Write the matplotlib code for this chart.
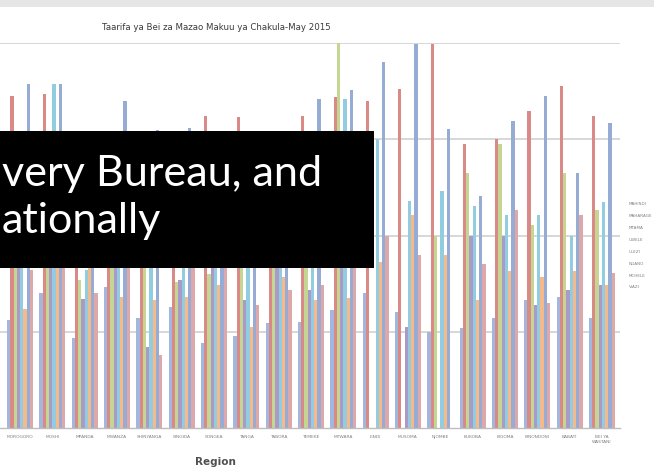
import matplotlib
matplotlib.use("Agg")
import matplotlib.pyplot as plt
import numpy as np
from matplotlib.patches import Rectangle

# Regional food crop prices, May 2015 (TSh per kg)
regions = ["MOROGORO", "MOSHI", "MPANDA", "MWANZA", "SHINYANGA", "SINGIDA",
           "SONGEA", "TANGA", "TABORA", "TEMEKE", "MTWARA", "LINDI", "MUSOMA",
           "NJOMBE", "BUKOBA", "KIGOMA", "KINONDONI", "BABATI", "BEI YA\nWASTANI"]

crops = ["MAHINDI", "MAHARAGE", "MTAMA", "UWELE", "ULEZI", "NGANO", "MCHELE", "VIAZI"]

mahindi = [560, 700, 470, 730, 570, 630, 443, 480, 547, 552, 615, 703, 604, 500, 520, 573, 667, 682, 573]
maharage = [1724, 1734, 1400, 1450, 1500, 1500, 1620, 1615, 1450, 1620, 1719, 1698, 1760, 1995, 1474, 1500, 1646, 1776, 1620]
mtama = [950, 1150, 770, 1100, 1200, 760, 800, 1000, 1100, 1000, 2000, 0, 0, 1000, 1323, 1474, 1057, 1323, 1135]
uwele = [1050, 1000, 670, 1200, 420, 770, 1100, 667, 900, 719, 1150, 0, 526, 0, 1000, 1000, 641, 719, 745]
ulezi = [1250, 1786, 820, 1300, 1100, 1250, 1300, 1200, 1250, 1300, 1708, 1500, 1177, 1229, 1151, 1109, 1109, 1000, 1172]
ngano = [620, 950, 900, 680, 667, 680, 745, 526, 786, 667, 677, 860, 1109, 900, 667, 813, 786, 813, 745]
mchele = [1786, 1786, 1500, 1698, 1550, 1560, 1500, 1450, 1500, 1708, 1755, 1901, 1995, 1552, 1203, 1594, 1724, 1323, 1583]
viazi = [820, 1000, 700, 1050, 380, 900, 950, 641, 719, 745, 900, 1000, 900, 0, 850, 1135, 651, 1109, 807]

series = [mahindi, maharage, mtama, uwele, ulezi, ngano, mchele, viazi]
colors = ["#a3b7de", "#d98a87", "#c4d691", "#a99ac7", "#92cce1",
          "#f6ba8a", "#97acd4", "#dca8aa"]

title = "Taarifa ya Bei za Mazao Makuu ya Chakula-May 2015"
caption_lines = ["very Bureau, and", "ationally"]

W, H = 654, 476
fig = plt.figure(figsize=(W / 100, H / 100), dpi=100)
fig.patch.set_facecolor("white")

def fx(px):
    return px / W

def fy(py):
    return 1 - py / H

# plot area: baseline at y=428 px, top gridline at y=43 px, right edge at x=620 px
ax = fig.add_axes([fx(0), fy(428), fx(620), (428 - 43) / H])
x = np.arange(len(regions))
n = len(series)
bw = 0.1005
for k, (vals, c, name) in enumerate(zip(series, colors, crops)):
    ax.bar(x + (k - (n - 1) / 2) * bw, vals, width=bw, color=c, label=name,
           linewidth=0, zorder=2)

ax.set_xlim(-0.619, 18.56)
ax.set_ylim(0, 2000)
ax.set_yticks([500, 1000, 1500, 2000])
ax.yaxis.grid(True, color="#d4d4d4", linewidth=1.3, zorder=0)
ax.set_axisbelow(True)
ax.tick_params(axis="y", left=False, labelleft=False)
ax.set_xticks(x)
ax.set_xticklabels(regions, fontsize=3.2, color="#808080",
                   family="Liberation Sans Narrow")
ax.tick_params(axis="x", length=0, pad=5)
for side in ["left", "right", "top"]:
    ax.spines[side].set_visible(False)
ax.spines["bottom"].set_color("#bdbdbd")
ax.spines["bottom"].set_linewidth(1.0)

leg = ax.legend(loc="upper left", bbox_to_anchor=(fx(627), fy(200)),
                bbox_transform=fig.transFigure, frameon=False,
                handlelength=0, handletextpad=0, borderpad=0,
                labelspacing=1.9, prop={"size": 3.0, "family": "Liberation Sans Narrow"})
for h in leg.legend_handles:
    h.set_visible(False)
for t in leg.get_texts():
    t.set_color("#808080")

fig.text(fx(216), fy(28), title, ha="center", va="center", fontsize=6.2,
         family="Liberation Sans Narrow", color="#3a3a3a")
fig.text(fx(215), fy(462), "Region", ha="center", va="center", fontsize=7.5,
         family="Liberation Sans Narrow", fontweight="bold", color="#505050")

# light strip along the top edge
fig.patches.append(Rectangle((0, fy(7)), 1, 7 / H, transform=fig.transFigure,
                             facecolor="#e6e6e6", edgecolor="none", zorder=5))

# black caption box with white text
fig.patches.append(Rectangle((0, fy(268)), fx(374), (268 - 131) / H,
                             transform=fig.transFigure, facecolor="black",
                             edgecolor="none", zorder=10))
t1 = fig.text(fx(2), fy(186), caption_lines[0], ha="left", va="baseline",
              color="white", family="Lato", fontsize=30, zorder=11)
t2 = fig.text(fx(2), fy(233), caption_lines[1], ha="left", va="baseline",
              color="white", family="Lato", fontsize=30, zorder=11)
r = fig.canvas.get_renderer()
w1 = t1.get_window_extent(r).width
size = 30 * 320 / w1
t1.set_fontsize(size)
t2.set_fontsize(size)

fig.savefig("out.png", dpi=100, facecolor="white")
